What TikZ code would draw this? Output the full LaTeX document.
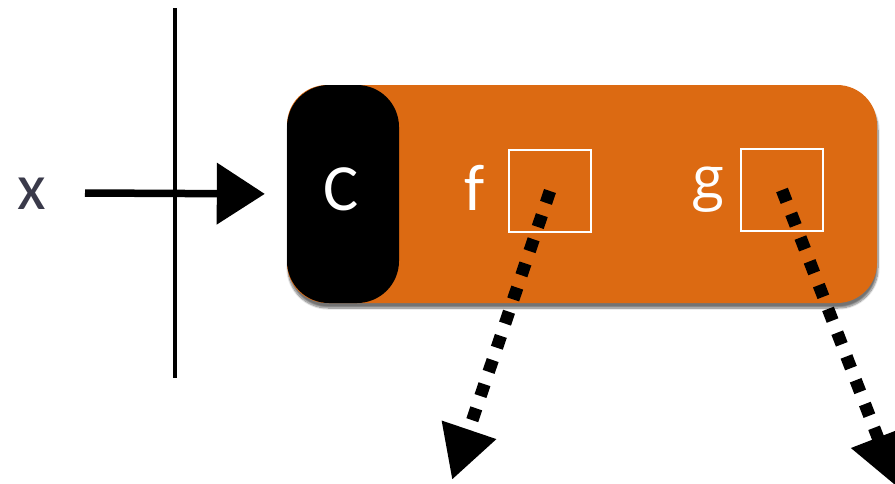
\documentclass[tikz,border=0pt]{standalone}
\usepackage{fontspec}
\setmainfont{Carlito}
\newfontfamily\gfont{Open Sans}
\usetikzlibrary{arrows.meta,shadows.blur}
\definecolor{modorange}{RGB}{220,106,18}
\definecolor{inkgray}{RGB}{58,58,74}
\tikzset{
  bigtext/.style={font=\fontsize{66}{66}\selectfont, inner sep=0pt},
  slotbox/.style={draw=white, line width=2pt, minimum width=82pt, minimum height=82pt, inner sep=0pt},
  flowarrow/.style={line width=12.5pt, dash pattern=on 12.5pt off 13pt,
    -{Triangle[length=53pt,width=54pt]}},
}
\begin{document}
\begin{tikzpicture}[x=1pt,y=-1pt]
  \useasboundingbox (0,0) rectangle (895,483);
  % module body
  \node (mod) [fill=modorange, rounded corners=40pt, minimum width=590pt, minimum height=218pt,
    inner sep=0pt, blur shadow={shadow xshift=1pt, shadow yshift=-5pt, shadow blur steps=10, shadow opacity=55}]
    at (582,194) {};
  \node (cbox) [fill=black, rounded corners=42pt, minimum width=112pt, minimum height=218pt, inner sep=0pt]
    at (343,194) {};
  \node (clab) [bigtext, text=white] at (341,189) {C};
  \node (flab) [bigtext, text=white] at (475,188) {f};
  \node (fbox) [slotbox] at (550,191) {};
  \node (glab) [font=\gfont\fontsize{58}{58}\selectfont, inner sep=0pt, text=white] at (708,190) {g};
  \node (gbox) [slotbox] at (782,190) {};
  % input
  \node (xlab) [bigtext, text=inkgray] at (32,194) {x};
  \coordinate (bartop) at (175,8);
  \coordinate (barbot) at (175,378);
  \draw[line width=4pt] (bartop) -- (barbot);
  \coordinate (xin) at (85,193);
  \draw[line width=7.5pt, shorten >=22pt, -{Triangle[length=48pt,width=60pt]}] (xin) -- (cbox.west);
  % outputs
  \coordinate (fout) at (452,480);
  \coordinate (gout) at (897,487);
  \draw[flowarrow] (fbox.center) -- (fout);
  \draw[flowarrow] (gbox.center) -- (gout);
\end{tikzpicture}
\end{document}
